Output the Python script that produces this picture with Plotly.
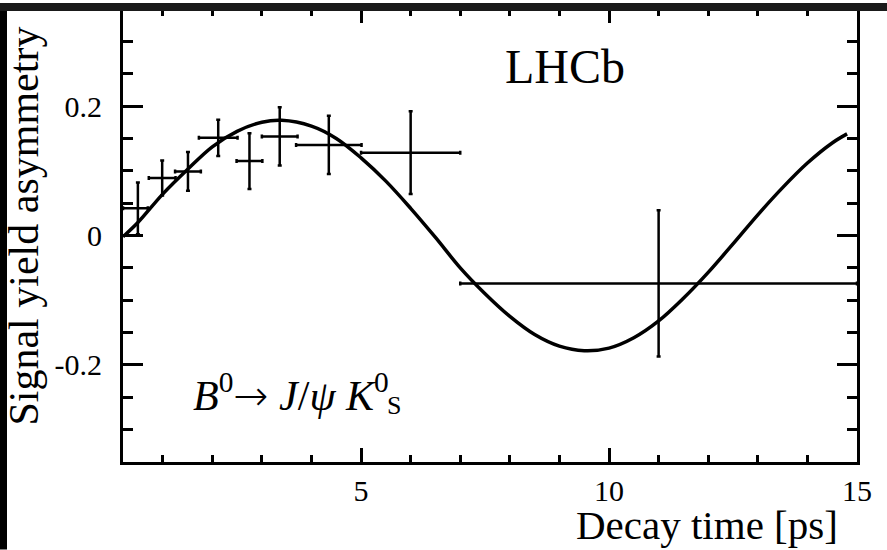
import plotly.graph_objects as go

# Data points (binned signal yield asymmetry)
t_vals = [0.5, 0.99, 1.51, 2.12, 2.75, 3.36, 4.35, 6.0, 11.0]
t_err_minus = [0.3, 0.27, 0.26, 0.39, 0.26, 0.36, 0.66, 1.0, 4.0]
t_err_plus = [0.2, 0.27, 0.26, 0.39, 0.26, 0.36, 0.66, 1.0, 4.0]
asym = [0.042, 0.089, 0.099, 0.151, 0.115, 0.153, 0.140, 0.128, -0.074]
asym_err = [0.040, 0.027, 0.030, 0.028, 0.043, 0.045, 0.045, 0.064, 0.113]

# Fit curve
curve_t = [0.2, 0.5, 1.0, 1.5, 2.0, 2.5, 3.0, 3.4, 4.0, 4.5, 5.0, 5.5, 6.0, 6.5,
           7.0, 7.5, 8.0, 8.5, 9.0, 9.5, 10.0, 10.5, 11.0, 11.5, 12.0, 12.5,
           13.0, 13.5, 14.0, 14.5, 14.8]
curve_a = [-0.002, 0.020, 0.064, 0.102, 0.137, 0.161, 0.175, 0.178, 0.169, 0.150,
           0.120, 0.084, 0.042, -0.003, -0.050, -0.090, -0.125, -0.153, -0.171,
           -0.178, -0.174, -0.158, -0.132, -0.097, -0.057, -0.013, 0.032, 0.074,
           0.112, 0.143, 0.157]

x_tickvals = [5, 10, 15]
x_ticktext = ["5", "10", "15"]
y_tickvals = [-0.2, 0, 0.2]
y_ticktext = ["-0.2", "0", "0.2"]

FONT = "Liberation Serif"
W, H = 887, 550
ML, MR, MT, MB = 123, 30, 6, 88
PW, PH = W - ML - MR, H - MT - MB

def px_x(p):
    return (p - ML) / PW

def px_y(p):
    return (H - MB - p) / PH

fig = go.Figure()

fig.add_trace(go.Scatter(
    x=curve_t, y=curve_a, mode="lines",
    line=dict(color="black", width=3.5, shape="spline", smoothing=1.0),
    showlegend=False, hoverinfo="skip"))

fig.add_trace(go.Scatter(
    x=t_vals, y=asym, mode="markers",
    marker=dict(size=0.1, color="black", opacity=0),
    error_x=dict(type="data", symmetric=False, array=t_err_plus, arrayminus=t_err_minus,
                 color="black", thickness=2.5, width=2),
    error_y=dict(type="data", array=asym_err, color="black", thickness=2.5, width=2),
    showlegend=False))

fig.update_xaxes(
    range=[0.2, 15], showline=True, linewidth=3, linecolor="black",
    mirror="allticks", ticks="inside", ticklen=14, tickwidth=2.5, tickcolor="black",
    tickvals=x_tickvals, ticktext=x_ticktext,
    tickfont=dict(family=FONT, size=30, color="black"),
    minor=dict(dtick=1, tick0=0, ticks="inside", ticklen=7, tickwidth=2.5, tickcolor="black"),
    showgrid=False, zeroline=False)
fig.update_yaxes(
    range=[-0.35, 0.35], showline=True, linewidth=3, linecolor="black",
    mirror="allticks", ticks="inside", ticklen=20, tickwidth=2.5, tickcolor="black",
    tickvals=y_tickvals, ticktext=y_ticktext, ticklabelstandoff=12,
    tickfont=dict(family=FONT, size=30, color="black"),
    minor=dict(dtick=0.05, tick0=0, ticks="inside", ticklen=10, tickwidth=2.5, tickcolor="black"),
    showgrid=False, zeroline=False)

ann = []
ann.append(dict(text="LHCb", xref="paper", yref="paper", x=px_x(503), y=px_y(64),
                xanchor="left", yanchor="middle", showarrow=False,
                font=dict(family=FONT, size=48, color="black")))
ann.append(dict(text="Decay time [ps]", xref="paper", yref="paper", x=px_x(840), y=px_y(525),
                xanchor="right", yanchor="middle", showarrow=False,
                font=dict(family=FONT, size=41, color="black")))
ann.append(dict(text="Signal yield asymmetry", xref="paper", yref="paper", x=px_x(24), y=px_y(225),
                xanchor="center", yanchor="middle", textangle=-90, showarrow=False,
                font=dict(family=FONT, size=42, color="black")))
ann.append(dict(text="<i>B</i><sup>0</sup><span style=\"font-family:DejaVu Sans;font-weight:200\">→</span> "
                     "<i>J</i>/<i>ψ</i> <i>K</i><sup>0</sup>",
                xref="paper", yref="paper", x=px_x(191), y=px_y(393),
                xanchor="left", yanchor="middle", showarrow=False,
                font=dict(family=FONT, size=42, color="black")))
ann.append(dict(text="S", xref="paper", yref="paper", x=px_x(385), y=px_y(405),
                xanchor="left", yanchor="middle", showarrow=False,
                font=dict(family=FONT, size=26, color="black")))

shapes = [
    dict(type="rect", xref="paper", yref="paper", layer="above",
         x0=px_x(0), x1=px_x(W), y0=px_y(0), y1=px_y(8),
         fillcolor="#1a1a1a", line=dict(width=0)),
    dict(type="rect", xref="paper", yref="paper", layer="above",
         x0=px_x(0), x1=px_x(7), y0=px_y(8), y1=px_y(H),
         fillcolor="#000000", line=dict(width=0)),
]

fig.update_layout(
    width=W, height=H, margin=dict(l=ML, r=MR, t=MT, b=MB),
    paper_bgcolor="white", plot_bgcolor="white",
    annotations=ann, shapes=shapes, showlegend=False)

fig.write_html("out.html", config={"displayModeBar": False},
               post_script="document.body.style.margin='0';document.body.style.overflow='hidden';")
